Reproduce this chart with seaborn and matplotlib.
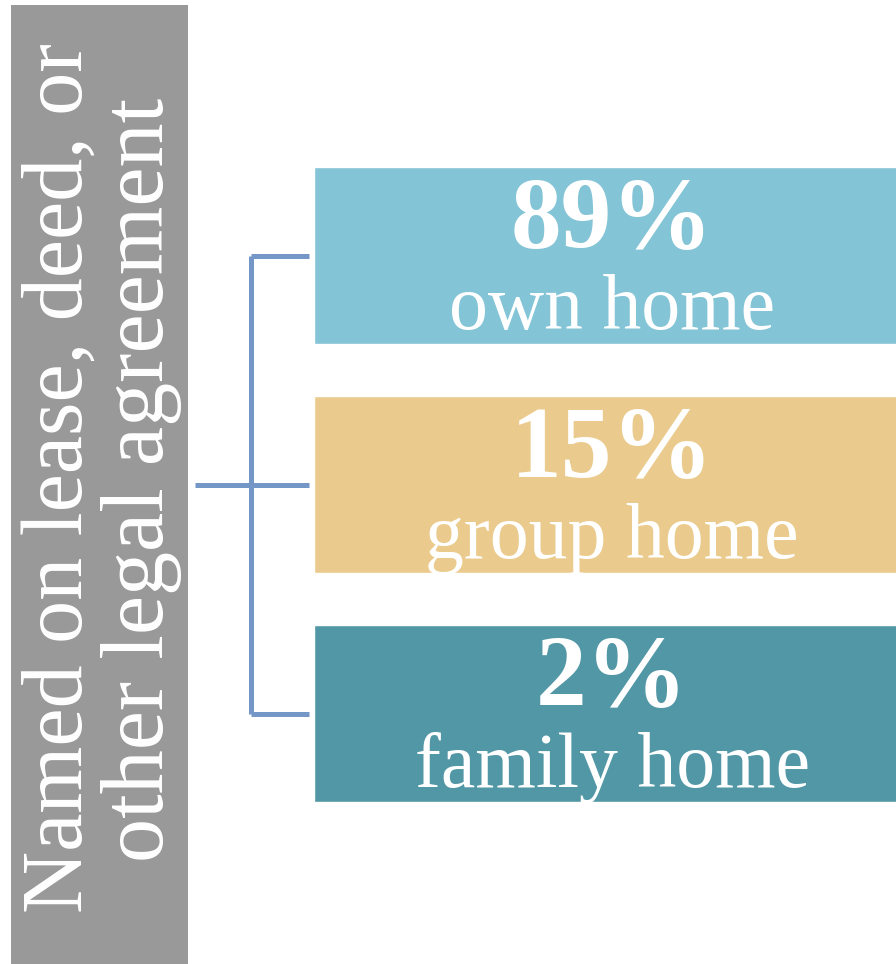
import matplotlib
matplotlib.use("Agg")
import matplotlib.pyplot as plt
from matplotlib.patches import Rectangle
import seaborn as sns
import pandas as pd

# values shown in the infographic
categories = ["own home", "group home", "family home"]
percents = [89, 15, 2]
colors = ["#83C4D6", "#EACB8D", "#5297A6"]
side_lines = ["Named on lease, deed, or", "other legal agreement"]

df = pd.DataFrame({"label": categories, "pct": percents, "length": [1] * len(categories)})

sns.set_style("white")
plt.rcParams["font.family"] = ["Liberation Serif", "DejaVu Serif"]

W, H = 896, 964
fig = plt.figure(figsize=(W / 100, H / 100), dpi=100)

# grey side panel with rotated caption
fig.patches.append(Rectangle((11 / W, 0), 177 / W, (H - 5) / H, transform=fig.transFigure,
                             facecolor="#999999", edgecolor="none", zorder=0))
fig.text(82 / W, 1 - 478 / H, side_lines[0], rotation=90, rotation_mode="anchor",
         ha="center", va="baseline", color="white", fontsize=62)
fig.text(163 / W, 1 - 480 / H, side_lines[1], rotation=90, rotation_mode="anchor",
         ha="center", va="baseline", color="white", fontsize=63.5)

# bars
ax = fig.add_axes([314 / W, 1 - 828 / H, 582 / W, 687 / H])
sns.barplot(data=df, y="label", x="length", hue="label", palette=colors, orient="h",
            width=177 / 229, legend=False, ax=ax, saturation=1)
ax.set_xlim(0, 0.976)
ax.set_ylim(len(categories) - 0.5, -0.5)
ax.axis("off")

for i, row in df.iterrows():
    ax.text(0.5, i - 0.035, f"{row['pct']}%", ha="center", va="baseline",
            color="white", fontsize=73, fontweight="bold")
    ax.text(0.5, i + 0.319, row["label"], ha="center", va="baseline",
            color="white", fontsize=56)

# bracket connecting the panel to each bar
br = "#7597C7"
ys = list(range(len(categories)))
tr = ax.get_yaxis_transform()
ax.plot([-0.108, -0.108], [ys[0], ys[-1]], color=br, lw=3.6, transform=tr,
        clip_on=False, solid_capstyle="butt")
for y in ys:
    ax.plot([-0.108, -0.0086], [y, y], color=br, lw=3.6, transform=tr,
            clip_on=False, solid_capstyle="butt")
ax.plot([-0.2045, -0.108], [ys[1], ys[1]], color=br, lw=3.6, transform=tr,
        clip_on=False, solid_capstyle="butt")

fig.savefig("out.png", dpi=100)
